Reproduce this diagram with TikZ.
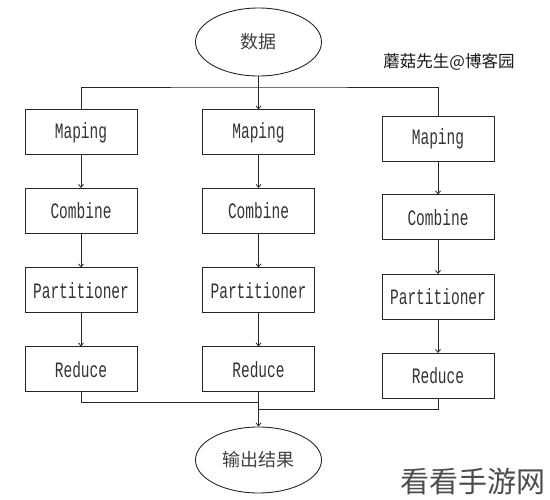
\documentclass[tikz,border=0pt]{standalone}
\usepackage{fontspec}
\usetikzlibrary{arrows.meta,shapes.geometric}
\newfontfamily\boxfont[FakeStretch=0.66]{Liberation Mono}
\newfontfamily\cjkfont{Noto Sans CJK SC}
\tikzset{
  stage/.style={draw=black!85, line width=1pt, minimum width=112pt, minimum height=45pt,
    inner sep=0pt, font=\boxfont\fontsize{22}{22}\selectfont, text=black!80},
  endpt/.style={ellipse, draw=black!85, line width=0.9pt, minimum width=126pt, minimum height=68pt,
    inner sep=0pt, font=\cjkfont\fontsize{18}{18}\selectfont, text=black!75},
  link/.style={line width=0.8pt, draw=black!85}
}
\begin{document}
\begin{tikzpicture}[x=1pt, y=-1pt, >={Straight Barb[length=3pt,width=5pt]}]
\useasboundingbox (0,0) rectangle (550,500);

\node[endpt] (data) at (258.5,42) {数据};
\node[endpt, minimum height=66pt] (out) at (258.5,460) {输出结果};

% three columns
\foreach \i/\x/\y in {1/81/132.5, 2/258.5/132.5, 3/438/139}
{
    \node[stage] (m\i) at (\x,\y) {Maping};
    \node[stage] (c\i) at (\x,\y+78.5) {Combine};
    \node[stage] (p\i) at (\x,\y+158) {Partitioner};
    \node[stage] (r\i) at (\x,\y+237) {Reduce};
    \draw[link,->] (m\i) -- (c\i);
    \draw[link,->] (c\i) -- (p\i);
    \draw[link,->] (p\i) -- (r\i);
}

% split and join
\coordinate (split) at (258.5,87);
\coordinate (joinl) at (258.5,402);
\coordinate (joinr) at (258.5,409);
\draw[link] (m1.north) |- (split) -| (m3.north);
\draw[link,->] (data) -- (m2);
\draw[link] (r1.south) |- (joinl);
\draw[link] (r3.south) |- (joinr);
\draw[link,->] (r2) -- (out);

\node[font=\cjkfont\fontsize{16.5}{16.5}\selectfont, text=black!90] (mark) at (449,62) {蘑菇先生@博客园};
\node[font=\cjkfont\fontsize{29}{29}\selectfont, text=black!70, anchor=east] (site) at (549,481) {看看手游网};
\end{tikzpicture}
\end{document}
